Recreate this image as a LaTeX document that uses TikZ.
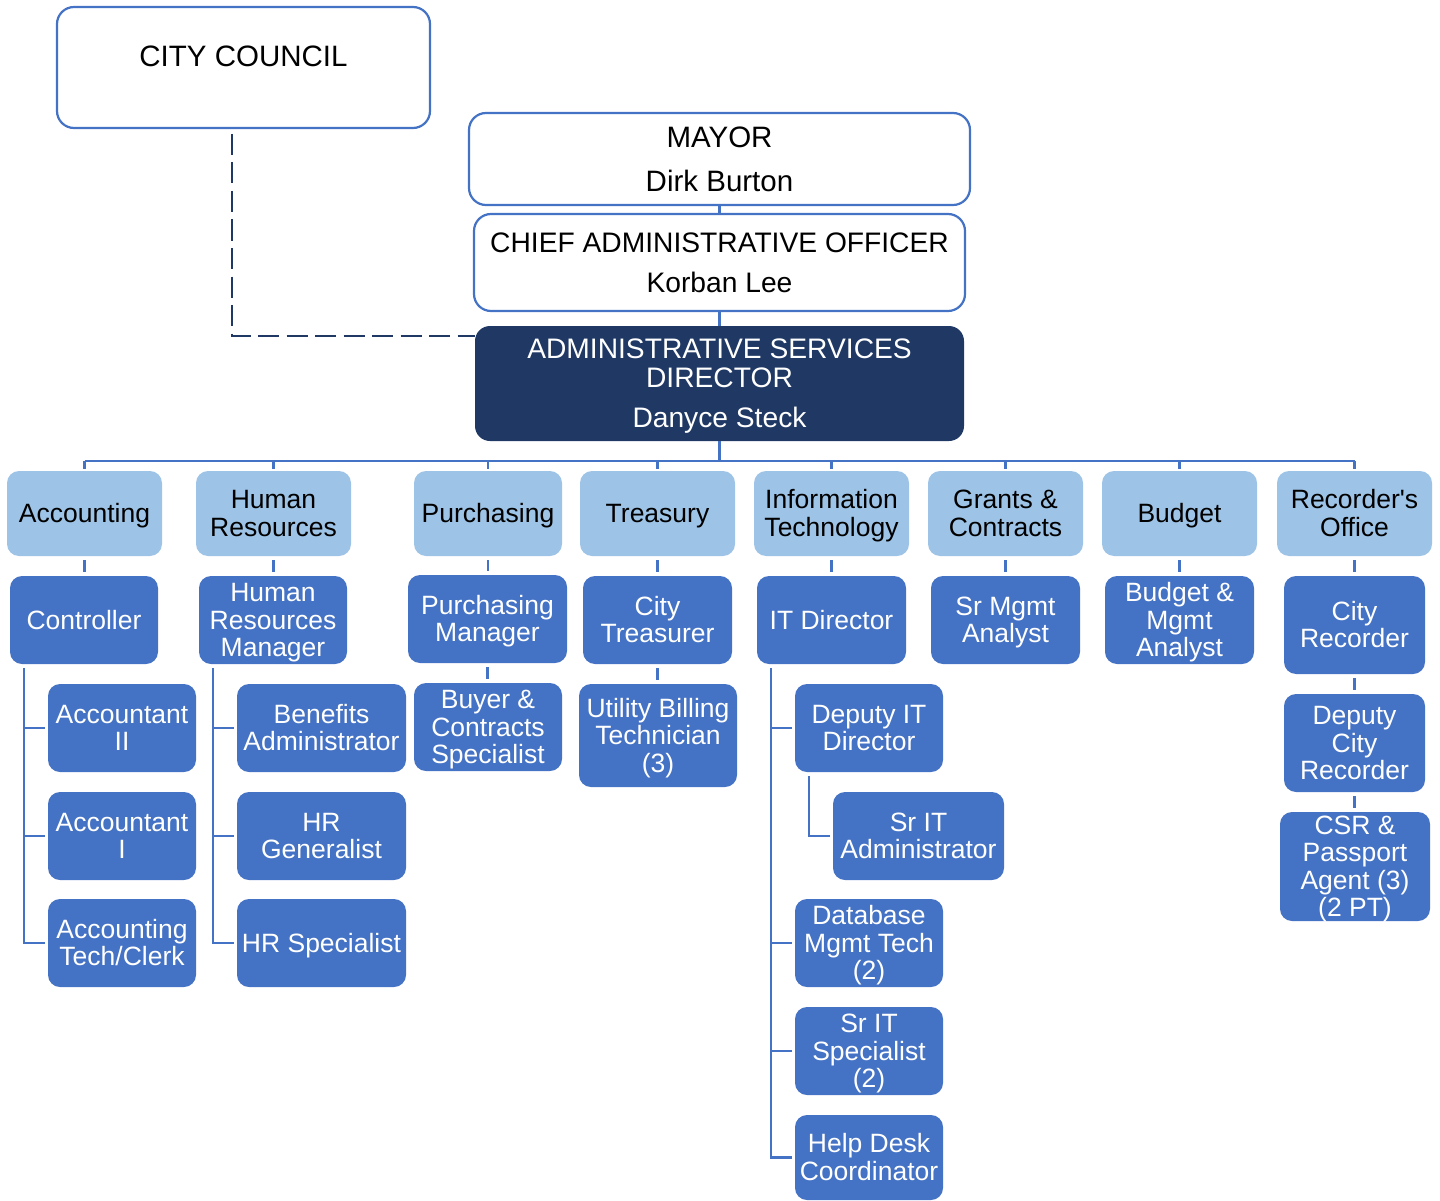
\documentclass[tikz,border=0pt]{standalone}
\usepackage{fontspec}
\setmainfont{Liberation Sans}
\usetikzlibrary{calc}

\definecolor{deptblue}{HTML}{9DC3E6}
\definecolor{jobblue}{HTML}{4472C4}
\definecolor{navy}{HTML}{203864}
\definecolor{linkblue}{HTML}{4472C4}

\newcommand\boxfont{\fontsize{26.5pt}{27.5pt}\selectfont}
\newcommand\headfont{\fontsize{28.2pt}{29pt}\selectfont}
\newcommand\bigheadfont{\fontsize{29.5pt}{29pt}\selectfont}

% centred multi-line text: box height = cap height of first line,
% depth = down to the last baseline, so the node centres the text block
\newsavebox\txtbox
\newdimen\txtdp
\newdimen\txtht
\newcommand\mt[1]{\sbox\txtbox{\begin{tabular}[t]{@{}c@{}}#1\end{tabular}}%
  \txtdp=\dp\txtbox \advance\txtdp by -0.3\baselineskip
  \txtht=\fontcharht\font`H
  \raisebox{0pt}[\txtht][\txtdp]{\usebox\txtbox}}

% \bx{name}{style}{x1}{y1}{x2}{y2}{text}
\newcommand\bx[7]{\node[#2, minimum width={#5-#3}, minimum height={#6-#4}]
  (#1) at ({(#3+#5)/2},{(#4+#6)/2}) {\mt{#7}};}

\tikzset{
  every node/.style={inner sep=0pt, outer sep=0pt, font=\boxfont},
  dept/.style={fill=deptblue, text=black, rounded corners=12pt},
  job/.style={fill=jobblue, text=white, rounded corners=12pt},
  head/.style={draw=jobblue, line width=2.2pt, fill=white, text=black, rounded corners=17pt, font=\headfont},
  director/.style={fill=navy, text=white, rounded corners=15pt, font=\headfont},
  link/.style={draw=linkblue, line width=2.2pt},
  dashedlink/.style={draw=navy, line width=2.6pt, dash pattern=on 21pt off 7.5pt},
  gap/.style={shorten <=4pt, shorten >=4pt},
}

\begin{document}
\begin{tikzpicture}[x=1pt, y=-1pt]
\useasboundingbox (0,0) rectangle (1440,1201);

% executive boxes
\bx{council}{head, font=\bigheadfont}{57}{7}{430}{128}{CITY COUNCIL\\[-6pt]\mbox{}}
\bx{mayor}{head, font=\bigheadfont}{469}{113}{970}{205}{MAYOR\\[14pt]Dirk Burton}
\bx{cao}{head}{474}{214}{965}{311}{CHIEF ADMINISTRATIVE OFFICER\\[11pt]Korban Lee}
\bx{asd}{director}{475}{326}{964}{441}{ADMINISTRATIVE SERVICES\\DIRECTOR\\[11pt]Danyce Steck}

% divisions
\bx{acct}{dept}{7}{471}{162}{556}{Accounting}
\bx{hr}{dept}{196}{471}{351}{556}{Human\\Resources}
\bx{purch}{dept}{414}{471}{562}{556}{Purchasing}
\bx{treas}{dept}{580}{471}{735}{556}{Treasury}
\bx{it}{dept}{754}{471}{909}{556}{Information\\Technology}
\bx{grants}{dept}{928}{471}{1083}{556}{Grants \&\\Contracts}
\bx{budget}{dept}{1102}{471}{1257}{556}{Budget}
\bx{rec}{dept}{1277}{471}{1432}{556}{Recorder\textquotesingle s\\Office}

% division heads
\bx{ctrl}{job}{10}{576}{158}{664}{Controller}
\bx{hrm}{job}{199}{576}{347}{664}{Human\\Resources\\Manager}
\bx{pm}{job}{408}{575}{567}{663}{Purchasing\\Manager}
\bx{ct}{job}{583}{576}{732}{664}{City\\Treasurer}
\bx{itd}{job}{757}{576}{906}{664}{IT Director}
\bx{sma}{job}{931}{576}{1080}{664}{Sr Mgmt\\Analyst}
\bx{bma}{job}{1105}{576}{1254}{664}{Budget \&\\Mgmt\\Analyst}
\bx{cr}{job}{1284}{576}{1425}{674}{City\\Recorder}
\bx{dcr}{job}{1284}{694}{1425}{792}{Deputy\\City\\Recorder}
\bx{csr}{job}{1280}{812}{1430}{921}{CSR \&\\Passport\\Agent (3)\\(2 PT)}

% staff
\bx{acc2}{job}{48}{684}{196}{772}{Accountant\\II}
\bx{acc1}{job}{48}{792}{196}{880}{Accountant\\I}
\bx{tech}{job}{48}{899}{196}{987}{Accounting\\Tech/Clerk}
\bx{ben}{job}{237}{684}{406}{772}{Benefits\\Administrator}
\bx{hrg}{job}{237}{792}{406}{880}{HR\\Generalist}
\bx{hrs}{job}{237}{899}{406}{987}{HR Specialist}
\bx{buyer}{job}{414}{683}{562}{771}{Buyer \&\\Contracts\\Specialist}
\bx{ubt}{job}{579}{684}{737}{787}{Utility Billing\\Technician\\(3)}
\bx{ditd}{job}{795}{684}{943}{772}{Deputy IT\\Director}
\bx{sita}{job}{833}{792}{1004}{880}{Sr IT\\Administrator}
\bx{dbm}{job}{795}{899}{943}{987}{Database\\Mgmt Tech\\(2)}
\bx{sits}{job}{795}{1007}{943}{1095}{Sr IT\\Specialist\\(2)}
\bx{hdc}{job}{795}{1115}{943}{1200}{Help Desk\\Coordinator}

% executive chain
\draw[link] (mayor) -- (cao);
\draw[link] (cao) -- (asd);
\coordinate (ccDrop) at (232,134);
\coordinate (asdIn) at (475,336);
\draw[dashedlink] (ccDrop) |- (asdIn);

% bus to divisions
\coordinate (bus) at (719.5,461);
\draw[link, line width=3pt] (asd) -- (bus);
\draw[link] (acct.north |- bus) -- (rec.north |- bus);
\foreach \d in {acct,hr,purch,treas,it,grants,budget,rec}
  \draw[link, shorten >=2pt] (\d.north |- bus) -- (\d.north);

% division to head
\foreach \a/\b in {acct/ctrl,hr/hrm,purch/pm,treas/ct,it/itd,grants/sma,budget/bma,rec/cr,cr/dcr,dcr/csr,pm/buyer,ct/ubt}
  \draw[link, gap] (\a.south) -- (\a.south |- \b.north);

% accounting staff
\coordinate (acctSp) at ([xshift=14pt,yshift=-4pt]ctrl.south west);
\draw[link] (acctSp) |- ([xshift=-3pt]tech.west);
\foreach \s in {acc2,acc1}
  \draw[link] (acctSp |- \s.west) -- ([xshift=-3pt]\s.west);

% HR staff
\coordinate (hrSp) at ([xshift=14pt,yshift=-4pt]hrm.south west);
\draw[link] (hrSp) |- ([xshift=-3pt]hrs.west);
\foreach \s in {ben,hrg}
  \draw[link] (hrSp |- \s.west) -- ([xshift=-3pt]\s.west);

% IT staff
\coordinate (itSp) at ([xshift=14pt,yshift=-4pt]itd.south west);
\draw[link] (itSp) |- ([xshift=-3pt]hdc.west);
\foreach \s in {ditd,dbm,sits}
  \draw[link] (itSp |- \s.west) -- ([xshift=-3pt]\s.west);
\coordinate (ditdSp) at ([xshift=14pt,yshift=-4pt]ditd.south west);
\draw[link] (ditdSp) |- ([xshift=-3pt]sita.west);
\end{tikzpicture}
\end{document}
